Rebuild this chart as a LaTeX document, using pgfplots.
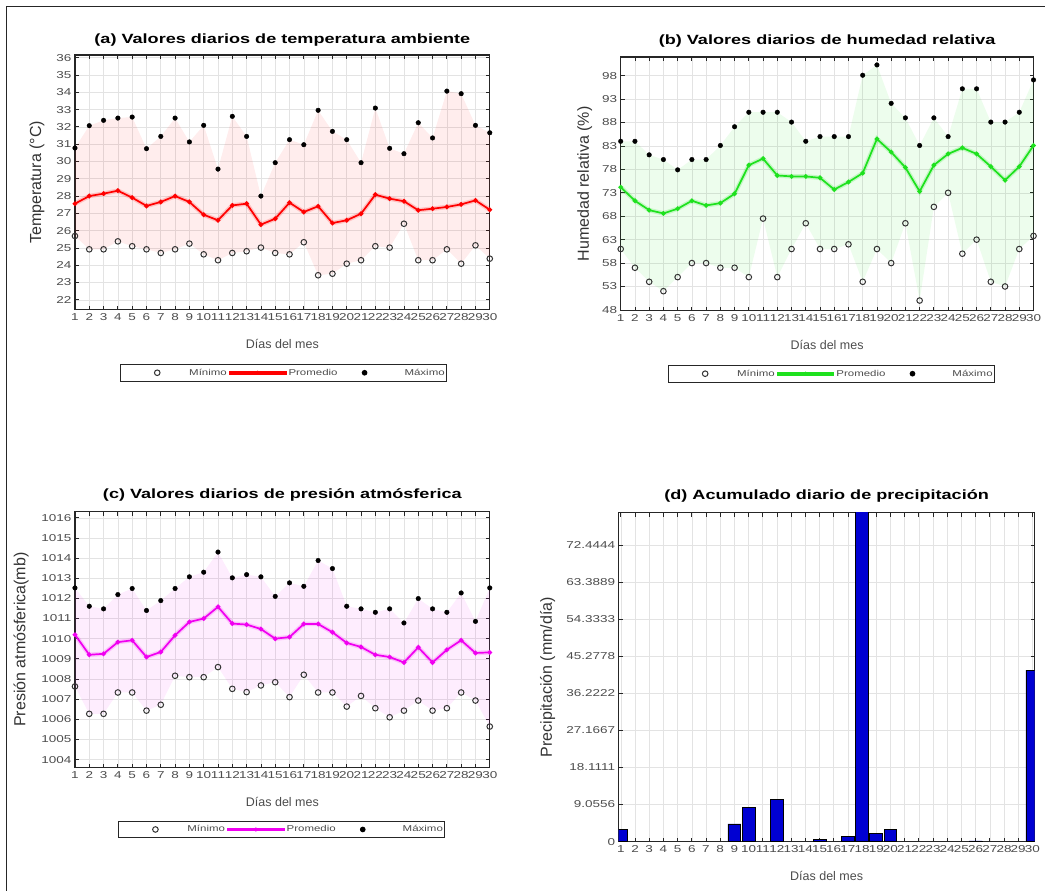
\documentclass[border=0pt]{standalone}
\usepackage{fontspec}
\setmainfont{Liberation Sans}
\newfontfamily\stretchfont{Liberation Sans}[FakeStretch=1.35]
\usepackage{pgfplots}
\usepackage{pgfplotstable}
\pgfplotsset{compat=1.18}
\usepgfplotslibrary{fillbetween}

\definecolor{mred}{RGB}{255,0,0}
\definecolor{mgreen}{RGB}{30,225,30}
\definecolor{mmag}{RGB}{240,0,240}
\definecolor{mblue}{RGB}{0,0,210}

\pgfplotstableread{
d mn av mx
1 25.69 27.56 30.78
2 24.92 28.00 32.07
3 24.92 28.14 32.38
4 25.38 28.31 32.51
5 25.10 27.91 32.57
6 24.92 27.43 30.74
7 24.71 27.66 31.45
8 24.92 28.00 32.51
9 25.25 27.66 31.13
10 24.63 26.92 32.09
11 24.29 26.60 29.56
12 24.71 27.46 32.61
13 24.81 27.56 31.45
14 25.02 26.35 28.00
15 24.71 26.69 29.93
16 24.63 27.62 31.26
17 25.33 27.08 30.97
18 23.42 27.41 32.96
19 23.51 26.44 31.74
20 24.09 26.60 31.26
21 24.29 26.98 29.93
22 25.10 28.08 33.09
23 25.02 27.85 30.76
24 26.40 27.70 30.45
25 24.29 27.18 32.24
26 24.29 27.27 31.36
27 24.92 27.37 34.07
28 24.09 27.52 33.92
29 25.15 27.75 32.09
30 24.38 27.21 31.66
}\tabA

\pgfplotstableread{
d mn av mx
1 61 74.2 84
2 57 71.3 84
3 54 69.3 81.1
4 52 68.6 80.1
5 55 69.6 77.9
6 58 71.3 80.1
7 58 70.3 80.1
8 57 70.8 83.1
9 57 72.8 87.1
10 55 78.9 90.2
11 67.5 80.3 90.2
12 55 76.7 90.2
13 61 76.5 88.1
14 66.5 76.5 84
15 61 76.2 85
16 61 73.7 85
17 62 75.3 85
18 54 77.2 98.1
19 61 84.5 100.3
20 58 81.7 92.1
21 66.5 78.4 89
22 50 73.3 83.1
23 70 78.9 89
24 73 81.3 85
25 60 82.6 95.2
26 63 81.3 95.2
27 54 78.6 88.1
28 53 75.7 88.1
29 61 78.6 90.2
30 63.8 83.1 97.1
}\tabB

\pgfplotstableread{
d mn av mx
1 1007.63 1010.20 1012.52
2 1006.27 1009.20 1011.61
3 1006.27 1009.25 1011.48
4 1007.33 1009.83 1012.19
5 1007.33 1009.92 1012.49
6 1006.43 1009.09 1011.40
7 1006.72 1009.34 1011.89
8 1008.16 1010.17 1012.49
9 1008.09 1010.83 1013.07
10 1008.09 1011.00 1013.30
11 1008.59 1011.58 1014.30
12 1007.51 1010.75 1013.02
13 1007.35 1010.70 1013.18
14 1007.68 1010.48 1013.07
15 1007.84 1010.00 1012.10
16 1007.10 1010.08 1012.77
17 1008.21 1010.73 1012.60
18 1007.33 1010.73 1013.88
19 1007.33 1010.32 1013.48
20 1006.63 1009.79 1011.61
21 1007.16 1009.59 1011.48
22 1006.55 1009.20 1011.31
23 1006.10 1009.09 1011.48
24 1006.43 1008.82 1010.78
25 1006.93 1009.57 1011.99
26 1006.43 1008.82 1011.48
27 1006.55 1009.45 1011.31
28 1007.33 1009.92 1012.27
29 1006.93 1009.29 1010.86
30 1005.64 1009.32 1012.52
}\tabC

\pgfplotstableread{
d p
1 3.0
9 4.3
10 8.3
12 10.2
15 0.5
17 1.2
18 81.5
19 1.9
20 3.0
26 0.15
30 41.9
}\tabD

\pgfplotsset{
  common/.style={
    scale only axis, anchor=south west,
    clip mode=individual,
    grid=major, grid style={gray!22, line width=0.6pt},
    axis line style={line width=1.1pt, black!85},
    major tick length=4pt,
    every tick/.style={black!85, line width=0.8pt},
    tick label style={font=\stretchfont\fontsize{10}{12}\selectfont, text=black!70},
    xtick={1,...,30},
    /pgf/number format/assume math mode=true,
    /pgf/number format/1000 sep={},
    scaled ticks=false,
    title style={font=\stretchfont\bfseries\fontsize{13.4}{15}\selectfont, at={(0.5,1)}, anchor=base},
    xlabel={Días del mes},
    xlabel style={font=\fontsize{12.5}{14}\selectfont, text=black!70, at={(axis description cs:0.5,0)}, anchor=base, yshift=-39pt},
    ylabel style={font=\fontsize{16}{18}\selectfont, text=black!80, anchor=center},
    legend columns=3,
    legend cell align=left,
    legend style={anchor=north west, font=\stretchfont\fontsize{8.5}{9}\selectfont, text=black!70,
      draw=black!85, line width=1pt, inner xsep=0pt, inner ysep=2.5pt, nodes={inner sep=2pt}},
  },
  minstyle/.style={draw=none, mark=o, mark size=2.8pt, mark options={draw=black!80, line width=1pt},
    legend image code/.code={\path[draw=none] (0pt,0pt) -- (67pt,0pt);
      \path[draw=none] plot[mark=o, mark size=2.8pt, mark options={draw=black!80, fill=none, line width=1pt}] coordinates {(37pt,0pt)};}},
  maxstyle/.style={draw=none, mark=*, mark size=2.3pt, mark options={draw=black, fill=black},
    legend image code/.code={\path[draw=none] (0pt,0pt) -- (63pt,0pt);
      \path[draw=none] plot[mark=*, mark size=2.3pt, mark options={draw=black, fill=black}] coordinates {(25pt,0pt)};}},
  avstyle/.style={color=#1, line width=1.7pt, mark=*, mark size=1.4pt, mark options={fill=#1, draw=#1},
    legend image code/.code={\fill[#1] (0pt,-1pt) rectangle (56pt,1pt);
      \path[draw=none] plot[mark=*, mark size=1.5pt, mark options={fill=#1, draw=#1, line width=1pt}] coordinates {(28pt,0pt)};}},
}

\begin{document}
\begin{tikzpicture}
\path (0pt,0pt) rectangle (1045pt,891pt);
\draw[line width=1pt, black!85] (7pt,0pt) -- (7pt,884pt) -- (1045pt,884pt);

% (a)
\begin{axis}[common, at={(75pt,581pt)}, width=415pt, height=255pt,
  xmin=1, xmax=30, ymin=21.42, ymax=36.16, ytick={22,...,36},
  title={(a) Valores diarios de temperatura ambiente}, title style={yshift=5pt},
  ylabel={Temperatura (°C)}, ylabel style={at={(axis description cs:-0.0916,0.5)}},
  legend style={at={(0.108,-0.212)}}]
\addplot[draw=none, forget plot, name path=amax] table[x=d,y=mx]{\tabA};
\addplot[draw=none, forget plot, name path=amin] table[x=d,y=mn]{\tabA};
\addplot[fill=mred, fill opacity=0.07, draw=none, forget plot] fill between[of=amax and amin];
\addplot[mred, opacity=0.18, line width=4.5pt, forget plot] table[x=d,y=av]{\tabA};
\addplot[minstyle] table[x=d,y=mn]{\tabA};
\addplot[avstyle=mred] table[x=d,y=av]{\tabA};
\addplot[maxstyle] table[x=d,y=mx]{\tabA};
\legend{Mínimo,Promedio,Máximo}
\end{axis}

% (b)
\begin{axis}[common, at={(621pt,580pt)}, width=413pt, height=254pt,
  xmin=1, xmax=30, ymin=47.8, ymax=102, ytick={48,53,...,98},
  title={(b) Valores diarios de humedad relativa}, title style={yshift=6pt},
  ylabel={Humedad relativa (\%)}, ylabel style={at={(axis description cs:-0.0872,0.5)}},
  legend style={at={(0.1138,-0.2126)}}]
\addplot[draw=none, forget plot, name path=bmax] table[x=d,y=mx]{\tabB};
\addplot[draw=none, forget plot, name path=bmin] table[x=d,y=mn]{\tabB};
\addplot[fill=mgreen, fill opacity=0.08, draw=none, forget plot] fill between[of=bmax and bmin];
\addplot[mgreen, opacity=0.2, line width=4.5pt, forget plot] table[x=d,y=av]{\tabB};
\addplot[minstyle] table[x=d,y=mn]{\tabB};
\addplot[avstyle=mgreen] table[x=d,y=av]{\tabB};
\addplot[maxstyle] table[x=d,y=mx]{\tabB};
\legend{Mínimo,Promedio,Máximo}
\end{axis}

% (c)
\begin{axis}[common, at={(75pt,123pt)}, width=415pt, height=256pt,
  xmin=1, xmax=30, ymin=1003.6, ymax=1016.3, ytick={1004,...,1016},
  title={(c) Valores diarios de presión atmósferica}, title style={yshift=7pt},
  ylabel={Presión atmósferica(mb)}, ylabel style={at={(axis description cs:-0.130,0.5)}},
  legend style={at={(0.1036,-0.207)}}]
\addplot[draw=none, forget plot, name path=cmax] table[x=d,y=mx]{\tabC};
\addplot[draw=none, forget plot, name path=cmin] table[x=d,y=mn]{\tabC};
\addplot[fill=mmag, fill opacity=0.07, draw=none, forget plot] fill between[of=cmax and cmin];
\addplot[mmag, opacity=0.18, line width=4.5pt, forget plot] table[x=d,y=av]{\tabC};
\addplot[minstyle] table[x=d,y=mn]{\tabC};
\addplot[avstyle=mmag] table[x=d,y=av]{\tabC};
\addplot[maxstyle] table[x=d,y=mx]{\tabC};
\legend{Mínimo,Promedio,Máximo}
\end{axis}

% (d)
\begin{axis}[common, at={(619pt,49pt)}, width=416pt, height=329pt,
  xmin=0.85, xmax=30.15, ymin=0, ymax=80.3,
  ytick={0,9.0556,18.1111,27.1667,36.2222,45.2778,54.3333,63.3889,72.4444},
  yticklabels={0,9.0556,18.1111,27.1667,36.2222,45.2778,54.3333,63.3889,72.4444},
  title={(d) Acumulado diario de precipitación}, title style={yshift=7pt},
  ylabel={Precipitación (mm/día)}, ylabel style={at={(axis description cs:-0.171,0.5)}}]
\addplot[ybar, bar width=12.8pt, fill=mblue, draw=black, line width=0.8pt] table[x=d,y=p]{\tabD};
\end{axis}
\end{tikzpicture}
\end{document}
